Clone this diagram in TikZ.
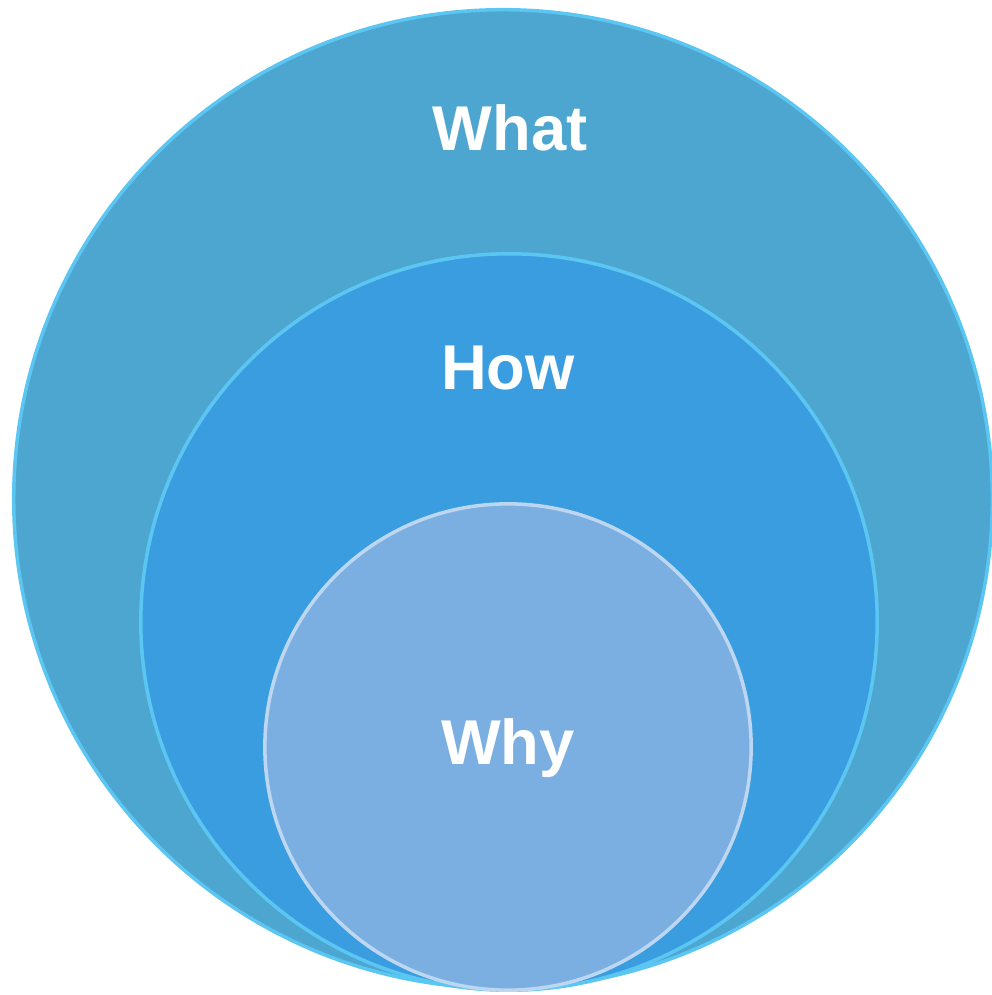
\documentclass[tikz,border=0pt]{standalone}
\usepackage{fontspec}
\setmainfont{Liberation Sans}
\usepackage{tikz}
\usetikzlibrary{positioning}
\definecolor{outerblue}{HTML}{4DA6D0}
\definecolor{midblue}{HTML}{3A9DE0}
\definecolor{innerblue}{HTML}{7BAFE2}
\definecolor{rimblue}{HTML}{5CC6F2}
\tikzset{
    ring/.style = {circle, inner sep=0pt, draw=rimblue, line width=1pt},
    label/.style = {text=white, font=\fontsize{18}{21}\selectfont\bfseries},
}

\begin{document}
\begin{tikzpicture}[x=0.01cm, y=-0.01cm]
    \useasboundingbox (0,0) rectangle (992,995);
    \node (what) [ring, fill=outerblue, minimum size=9.78cm] at (503,499) {};
    \node (how) [ring, fill=midblue, minimum size=7.36cm] at (509,622) {};
    \node (why) [ring, fill=innerblue, draw=white!50!innerblue, minimum size=4.86cm] at (508,747) {};
    \node (what_t) [label] at (510,128) {What};
    \node (how_t) [label] at (508,368) {How};
    \node (why_t) [label] at (508,748) {Why};
\end{tikzpicture}
\end{document}
